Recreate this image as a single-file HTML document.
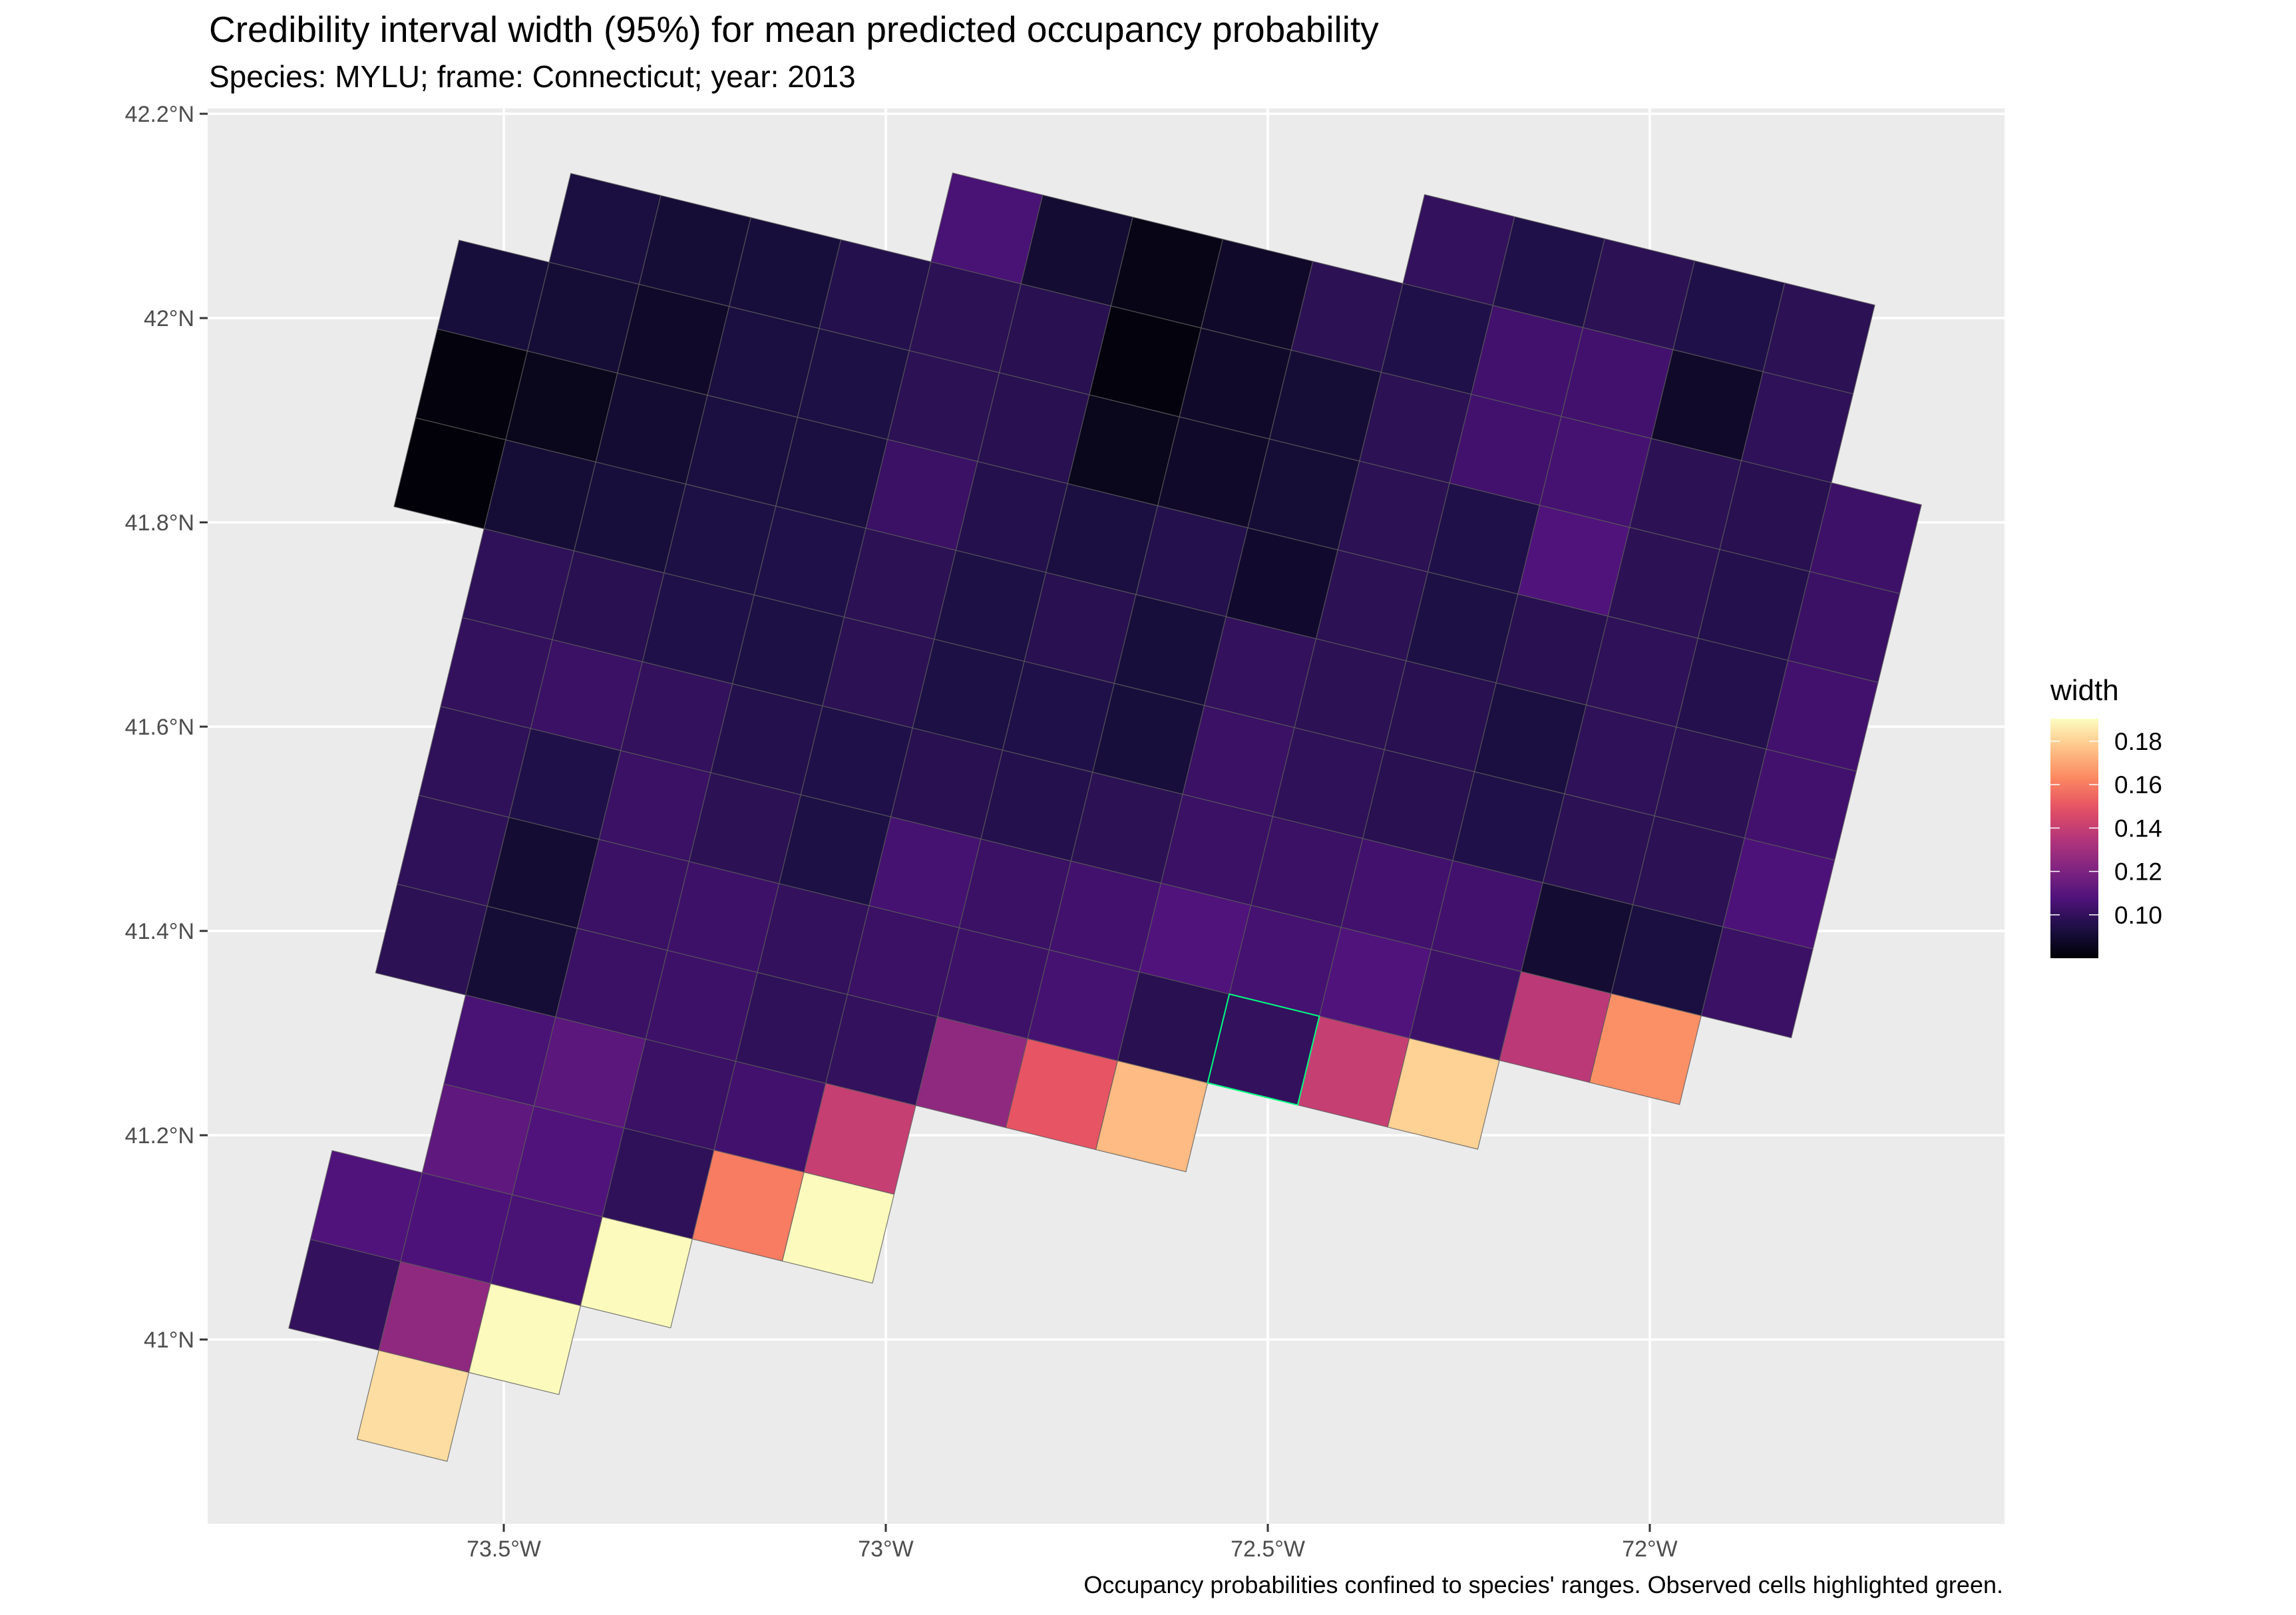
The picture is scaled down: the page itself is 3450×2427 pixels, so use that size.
<!DOCTYPE html>
<html><head><meta charset="utf-8"><style>
html,body{margin:0;padding:0;background:#fff;}
svg{display:block;font-family:"Liberation Sans",sans-serif;}
</style></head><body>
<svg id="chart" xmlns="http://www.w3.org/2000/svg" width="3450" height="2427" viewBox="0 0 3450 2427">
<rect x="0" y="0" width="3450" height="2427" fill="#ffffff"/>
<text x="314" y="63" font-size="55" fill="#000">Credibility interval width (95%) for mean predicted occupancy probability</text>
<text x="314" y="131" font-size="46" fill="#000">Species: MYLU; frame: Connecticut; year: 2013</text>
<rect x="312" y="163" width="2700" height="2127" fill="#ebebeb"/>
<g id="grid"></g>
<g id="cells"></g>
<g id="axes"></g>
<g id="legend"></g>
<text x="3010" y="2394" font-size="36" text-anchor="end" fill="#000">Occupancy probabilities confined to species' ranges. Observed cells highlighted green.</text>
</svg>
<script>
const latTicks = [42.2, 42.0, 41.8, 41.6, 41.4, 41.2, 41.0];
const latLabels = ["42.2°N","42°N","41.8°N","41.6°N","41.4°N","41.2°N","41°N"];
const lonTicks = [-73.5, -73.0, -72.5, -72.0];
const lonLabels = ["73.5°W","73°W","72.5°W","72°W"];
const legendTicks = [0.10, 0.12, 0.14, 0.16, 0.18];
const legendLabels = ["0.10","0.12","0.14","0.16","0.18"];
const valueMin = 0.080, valueMax = 0.1904;
const rowStart = [10,5,1,0,0,0,1,1,1,1,1,2,2,1,1,2];
const row0 = [0.100,0.095,0.098,0.095,0.098];
const row1 = [0.106,0.090,0.084,0.088,0.098,0.095,0.104,0.104,0.088,0.099];
const row2 = [0.093,0.091,0.092,0.096,0.098,0.097,0.082,0.088,0.091,0.098,0.104,0.105,0.098,0.097,0.103];
const row3 = [0.092,0.091,0.088,0.093,0.094,0.098,0.097,0.085,0.088,0.091,0.098,0.095,0.108,0.098,0.096,0.102];
const row4 = [0.082,0.085,0.090,0.093,0.093,0.102,0.096,0.093,0.096,0.089,0.098,0.094,0.097,0.099,0.096,0.104];
const row5 = [0.081,0.091,0.092,0.094,0.095,0.098,0.094,0.097,0.092,0.100,0.098,0.097,0.093,0.099,0.098,0.104];
const row6 = [0.099,0.097,0.095,0.094,0.098,0.094,0.095,0.092,0.102,0.099,0.097,0.095,0.098,0.098,0.107];
const row7 = [0.100,0.102,0.100,0.096,0.095,0.097,0.096,0.098,0.102,0.102,0.104,0.104,0.090,0.093,0.102];
const row8 = [0.099,0.095,0.102,0.098,0.094,0.105,0.102,0.104,0.108,0.105,0.108,0.103,0.137,0.165];
const row9 = [0.099,0.090,0.102,0.103,0.100,0.102,0.103,0.105,0.097,0.100,0.140,0.180];
const row10 = [0.098,0.091,0.102,0.103,0.099,0.100,0.125,0.150,0.175];
const row11 = [0.106,0.111,0.102,0.104,0.140];
const row12 = [0.112,0.108,0.099,0.160,0.190];
const row13 = [0.108,0.107,0.106,0.190];
const row14 = [0.100,0.125,0.190];
const row15 = [0.183];
const observedCells = [[10,9]];

const rows = [row0,row1,row2,row3,row4,row5,row6,row7,row8,row9,row10,row11,row12,row13,row14,row15];
const NS = "http://www.w3.org/2000/svg";
function xLon(lon){ return 757 + (lon + 73.5) * 1148; }
function yLat(lat){ return 171 + (42.2 - lat) * 1535; }
const O = [787.6, -39.6], U = [135.3, 33.2], D = [-32.6, 133.5];
function lattice(c, r){ return [O[0] + c*U[0] + r*D[0], O[1] + c*U[1] + r*D[1]]; }
const stops = ["#000004","#1c1044","#4f127b","#812581","#b5367a","#e55064","#fb8761","#fec287","#fcfdbf"];
function hex(h){ return [parseInt(h.substr(1,2),16),parseInt(h.substr(3,2),16),parseInt(h.substr(5,2),16)]; }
function magma(t){
  t = Math.max(0, Math.min(1, t));
  const f = t * (stops.length - 1), i = Math.min(stops.length - 2, Math.floor(f)), k = f - i;
  const a = hex(stops[i]), b = hex(stops[i+1]);
  return "rgb(" + a.map((v,j)=>Math.round(v + (b[j]-v)*k)).join(",") + ")";
}
function colorOf(v){ return magma((v - valueMin) / (valueMax - valueMin)); }
function mk(tag, attrs, parent){
  const e = document.createElementNS(NS, tag);
  for (const k in attrs) e.setAttribute(k, attrs[k]);
  parent.appendChild(e); return e;
}

const grid = document.getElementById("grid");
latTicks.forEach(function(lat){
  const l = mk("line", {x1:312, x2:3012, y1:yLat(lat), y2:yLat(lat), stroke:"#fff", "stroke-width":3.5}, grid);
  
  
});
lonTicks.forEach(function(lon){
  const l = mk("line", {x1:xLon(lon), x2:xLon(lon), y1:163, y2:2290, stroke:"#fff", "stroke-width":3.5}, grid);
  
  
});

const cellsG = document.getElementById("cells");
rows.forEach(function(vals, r){
  vals.forEach(function(v, i){
    const c = rowStart[r] + i;
    const pts = [lattice(c,r), lattice(c+1,r), lattice(c+1,r+1), lattice(c,r+1)];
    const p = mk("polygon", {points: pts.map(q=>q[0].toFixed(1)+","+q[1].toFixed(1)).join(" "), fill: colorOf(v), stroke:"#5a5a5a", "stroke-width":1.2, "stroke-opacity":0.8}, cellsG);
    
    
  });
});
observedCells.forEach(function(oc){
  const c = oc[0], r = oc[1];
  const pts = [lattice(c,r), lattice(c+1,r), lattice(c+1,r+1), lattice(c,r+1)];
  const p = mk("polygon", {points: pts.map(q=>q[0].toFixed(1)+","+q[1].toFixed(1)).join(" "), fill:"none", stroke:"#00ff7f", "stroke-width":2}, cellsG);
  
  
});

const axes = document.getElementById("axes");
latTicks.forEach(function(lat, i){
  const y = yLat(lat);
  const t = mk("line", {x1:300, x2:312, y1:y, y2:y, stroke:"#333", "stroke-width":3}, axes);
  
  
  const tx = mk("text", {x:292, y:y+12, "font-size":34, "text-anchor":"end", fill:"#4d4d4d"}, axes);
  tx.textContent = latLabels[i];
  
  
});
lonTicks.forEach(function(lon, i){
  const x = xLon(lon);
  const t = mk("line", {x1:x, x2:x, y1:2290, y2:2302, stroke:"#333", "stroke-width":3}, axes);
  
  
  const tx = mk("text", {x:x, y:2339, "font-size":34, "text-anchor":"middle", fill:"#4d4d4d"}, axes);
  tx.textContent = lonLabels[i];
  
  
});

const leg = document.getElementById("legend");
const lt = mk("text", {x:3081, y:1052, "font-size":44, fill:"#000"}, leg);
lt.textContent = "width";


const defs = mk("defs", {}, leg);
const grad = mk("linearGradient", {id:"magmaGrad", x1:0, y1:1, x2:0, y2:0}, defs);
for (let i = 0; i <= 20; i++){
  mk("stop", {offset: (i/20).toFixed(3), "stop-color": magma(i/20)}, grad);
}
const barTop = 1080, barBot = 1440, barX = 3081, barW = 72;
function yLegend(v){ return barBot - (v - valueMin) / (valueMax - valueMin) * (barBot - barTop); }
const bar = mk("rect", {x:barX, y:barTop, width:barW, height:barBot-barTop, fill:"url(#magmaGrad)"}, leg);


legendTicks.forEach(function(v, i){
  const y = yLegend(v);
  const a = mk("line", {x1:barX, x2:barX+14, y1:y, y2:y, stroke:"#fff", "stroke-width":1.5}, leg);
  
  
  const b = mk("line", {x1:barX+barW-14, x2:barX+barW, y1:y, y2:y, stroke:"#fff", "stroke-width":1.5}, leg);
  
  
  const tx = mk("text", {x:3177, y:y+13, "font-size":37, fill:"#000"}, leg);
  tx.textContent = legendLabels[i];
  
  
});
</script>
</body></html>
